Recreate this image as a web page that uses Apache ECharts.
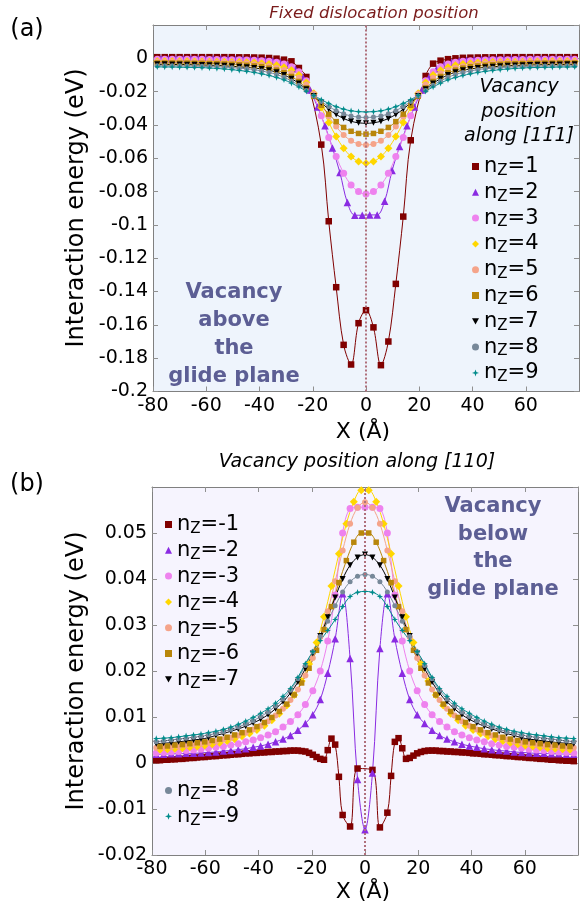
<!DOCTYPE html>
<html><head><meta charset="utf-8">
<script src="https://cdn.jsdelivr.net/npm/echarts@6/dist/echarts.min.js"></script>
<style>html,body{margin:0;padding:0;background:#fff}#c{width:586px;height:904px}</style>
</head><body><div id="c"></div>
<script>
// ---------- x positions (Å) ----------
const xA = [-78.4,-75.6,-72.8,-70,-67.2,-64.4,-61.6,-58.8,-56,-53.2,-50.4,-47.6,-44.8,-42,-39.2,-36.4,-33.6,-30.8,-28,-25.2,-22.4,-19.6,-16.8,-14,-11.2,-8.4,-5.6,-2.8,0,2.8,5.6,8.4,11.2,14,16.8,19.6,22.4,25.2,28,30.8,33.6,36.4,39.2,42,44.8,47.6,50.4,53.2,56,58.8,61.6,64.4,67.2,70,72.8,75.6,78.4];
const xB = [-77,-74.2,-71.4,-68.6,-65.8,-63,-60.2,-57.4,-54.6,-51.8,-49,-46.2,-43.4,-40.6,-37.8,-35,-32.2,-29.4,-26.6,-23.8,-21,-18.2,-15.4,-12.6,-9.8,-7,-4.2,-1.4,1.4,4.2,7,9.8,12.6,15.4,18.2,21,23.8,26.6,29.4,32.2,35,37.8,40.6,43.4,46.2,49,51.8,54.6,57.4,60.2,63,65.8,68.6,71.4,74.2,77];
const xN1 = [-78.4,-77,-75.6,-74.2,-72.8,-71.4,-70,-68.6,-67.2,-65.8,-64.4,-63,-61.6,-60.2,-58.8,-57.4,-56,-54.6,-53.2,-51.8,-50.4,-49,-47.6,-46.2,-44.8,-43.4,-42,-40.6,-39.2,-37.8,-36.4,-35,-33.6,-32.2,-30.8,-29.4,-28,-26.6,-25.2,-23.8,-22.4,-21,-19.6,-18.2,-16.8,
 -15.4,-14,-12.6,-11.2,-9.8,-8.4,-5.6,-2.8,2.8,5.6,8.4,9.8,11.2,12.6,14,15.4,
 16.8,18.2,19.6,21,22.4,23.8,25.2,26.6,28,29.4,30.8,32.2,33.6,35,36.4,37.8,39.2,40.6,42,43.4,44.8,46.2,47.6,49,50.4,51.8,53.2,54.6,56,57.4,58.8,60.2,61.6,63,64.4,65.8,67.2,68.6,70,71.4,72.8,74.2,75.6,77,78.4];

// ---------- (a) vacancy above the glide plane, energies (eV) ----------
const a1 = [0.0007,0.0007,0.0007,0.0007,0.0007,0.0007,0.0007,0.0007,0.0007,0.0007,0.0007,0.0006,0.0006,0.0005,0.0004,0.0002,-0.0002,-0.0008,-0.0018,-0.0058,-0.0112,null,-0.0518,-0.0978,-0.1374,-0.1720,-0.1838,-0.1590,
 -0.1512,
 -0.1615,-0.1842,-0.1700,-0.1354,-0.0950,-0.0492,null,-0.0106,-0.0032,-0.0014,-0.0005,0.0000,0.0003,0.0004,0.0005,0.0006,0.0006,0.0007,0.0007,0.0007,0.0007,0.0007,0.0007,0.0007,0.0007,0.0007,0.0007,0.0007];
const a2 = [-0.0002,-0.0002,-0.0002,-0.0002,-0.0002,-0.0003,-0.0003,-0.0003,-0.0003,-0.0004,-0.0004,-0.0005,-0.0006,-0.0008,-0.0011,-0.0016,-0.0024,-0.0038,-0.0062,-0.0110,-0.0190,-0.0292,-0.0405,-0.0538,-0.0686,-0.0866,-0.0942,-0.0942,
 -0.0940,-0.0940,-0.0858,-0.0674,-0.0530,-0.0405,-0.0292,-0.0190,-0.0110,-0.0062,-0.0038,-0.0024,-0.0016,-0.0011,-0.0008,-0.0006,-0.0005,-0.0004,-0.0004,-0.0003,-0.0003,-0.0003,-0.0003,-0.0002,-0.0002,-0.0002,-0.0002,-0.0002];
const a3 = [-0.0005,-0.0005,-0.0005,-0.0006,-0.0006,-0.0006,-0.0006,-0.0007,-0.0007,-0.0008,-0.0008,-0.0009,-0.0010,-0.0012,-0.0014,-0.0018,-0.0024,-0.0034,-0.0050,-0.0080,-0.0135,-0.0225,-0.0345,-0.0475,-0.0590,-0.0690,-0.0760,-0.0800,
 -0.0815,
 -0.0800,-0.0760,-0.0690,-0.0590,-0.0475,-0.0345,-0.0225,-0.0135,-0.0080,-0.0050,-0.0034,-0.0024,-0.0018,-0.0014,-0.0012,-0.0010,-0.0009,-0.0008,-0.0008,-0.0007,-0.0007,-0.0006,-0.0006,-0.0006,-0.0006,-0.0005,-0.0005,-0.0005];
const a4 = [-0.0017,-0.0017,-0.0018,-0.0018,-0.0018,-0.0019,-0.0019,-0.0020,-0.0020,-0.0021,-0.0022,-0.0022,-0.0023,-0.0025,-0.0029,-0.0034,-0.0042,-0.0054,-0.0072,-0.0100,-0.0145,-0.0210,-0.0295,-0.0385,-0.0470,-0.0540,-0.0590,-0.0620,
 -0.0630,
 -0.0620,-0.0590,-0.0540,-0.0470,-0.0385,-0.0295,-0.0210,-0.0145,-0.0100,-0.0072,-0.0054,-0.0042,-0.0034,-0.0029,-0.0025,-0.0023,-0.0022,-0.0022,-0.0021,-0.0020,-0.0020,-0.0019,-0.0019,-0.0018,-0.0018,-0.0018,-0.0017,-0.0017];
const a5 = [-0.0021,-0.0022,-0.0022,-0.0022,-0.0023,-0.0023,-0.0024,-0.0024,-0.0025,-0.0026,-0.0027,-0.0029,-0.0031,-0.0035,-0.0040,-0.0047,-0.0057,-0.0070,-0.0089,-0.0117,-0.0157,-0.0212,-0.0280,-0.0348,-0.0410,-0.0460,-0.0495,-0.0514,
 -0.0520,
 -0.0514,-0.0495,-0.0460,-0.0410,-0.0348,-0.0280,-0.0212,-0.0157,-0.0117,-0.0089,-0.0070,-0.0057,-0.0047,-0.0040,-0.0035,-0.0031,-0.0029,-0.0027,-0.0026,-0.0025,-0.0024,-0.0024,-0.0023,-0.0023,-0.0022,-0.0022,-0.0022,-0.0021];
const a6 = [-0.0028,-0.0028,-0.0028,-0.0029,-0.0029,-0.0030,-0.0030,-0.0031,-0.0032,-0.0034,-0.0036,-0.0039,-0.0042,-0.0046,-0.0050,-0.0059,-0.0071,-0.0087,-0.0109,-0.0139,-0.0178,-0.0228,-0.0282,-0.0335,-0.0380,-0.0415,-0.0438,-0.0451,
 -0.0455,
 -0.0451,-0.0438,-0.0415,-0.0380,-0.0335,-0.0282,-0.0228,-0.0178,-0.0139,-0.0109,-0.0087,-0.0071,-0.0059,-0.0050,-0.0046,-0.0042,-0.0039,-0.0036,-0.0034,-0.0032,-0.0031,-0.0030,-0.0030,-0.0029,-0.0029,-0.0028,-0.0028,-0.0028];
const a7 = [-0.0036,-0.0036,-0.0037,-0.0037,-0.0038,-0.0039,-0.0040,-0.0041,-0.0043,-0.0045,-0.0048,-0.0051,-0.0054,-0.0058,-0.0064,-0.0072,-0.0083,-0.0100,-0.0122,-0.0151,-0.0186,-0.0226,-0.0266,-0.0305,-0.0337,-0.0361,-0.0378,-0.0387,
 -0.0390,
 -0.0387,-0.0378,-0.0361,-0.0337,-0.0305,-0.0266,-0.0226,-0.0186,-0.0151,-0.0122,-0.0100,-0.0083,-0.0072,-0.0064,-0.0058,-0.0054,-0.0051,-0.0048,-0.0045,-0.0043,-0.0041,-0.0040,-0.0039,-0.0038,-0.0037,-0.0037,-0.0036,-0.0036];
const a8 = [-0.0044,-0.0044,-0.0045,-0.0045,-0.0046,-0.0047,-0.0048,-0.0049,-0.0051,-0.0053,-0.0056,-0.0059,-0.0063,-0.0068,-0.0076,-0.0085,-0.0097,-0.0114,-0.0136,-0.0162,-0.0193,-0.0226,-0.0259,-0.0289,-0.0314,-0.0333,-0.0346,-0.0353,
 -0.0355,
 -0.0353,-0.0346,-0.0333,-0.0314,-0.0289,-0.0259,-0.0226,-0.0193,-0.0162,-0.0136,-0.0114,-0.0097,-0.0085,-0.0076,-0.0068,-0.0063,-0.0059,-0.0056,-0.0053,-0.0051,-0.0049,-0.0048,-0.0047,-0.0046,-0.0045,-0.0045,-0.0044,-0.0044];
const a9 = [-0.0051,-0.0052,-0.0052,-0.0053,-0.0054,-0.0055,-0.0056,-0.0058,-0.0061,-0.0064,-0.0068,-0.0073,-0.0078,-0.0085,-0.0093,-0.0103,-0.0115,-0.0129,-0.0149,-0.0172,-0.0197,-0.0223,-0.0248,-0.0271,-0.0290,-0.0305,-0.0315,-0.0320,
 -0.0322,
 -0.0320,-0.0315,-0.0305,-0.0290,-0.0271,-0.0248,-0.0223,-0.0197,-0.0172,-0.0149,-0.0129,-0.0115,-0.0103,-0.0093,-0.0085,-0.0078,-0.0073,-0.0068,-0.0064,-0.0061,-0.0058,-0.0056,-0.0055,-0.0054,-0.0053,-0.0052,-0.0052,-0.0051];

// ---------- (b) vacancy below the glide plane, energies (eV) ----------
const b1 = [0.0006,0.0006,0.0007,0.0007,0.0008,0.0008,0.0009,0.0009,0.0010,0.0011,0.0011,0.0012,0.0013,0.0013,0.0014,0.0015,0.0015,0.0016,0.0017,0.0017,0.0018,0.0019,0.0019,0.0020,0.0021,0.0021,0.0022,0.0022,0.0023,0.0023,0.0024,0.0024,0.0025,0.0025,0.0026,0.0026,0.0027,0.0027,0.0027,0.0026,0.0025,0.0022,0.0018,0.0013,0.0009,
 0.0007,0.0028,0.0053,0.0040,-0.0030,-0.0113,-0.0138,-0.0012,-0.0015,-0.0140,-0.0108,-0.0028,0.0046,0.0054,0.0032,0.0009,
 0.0011,0.0016,0.0021,0.0024,0.0026,0.0027,0.0027,0.0027,0.0026,0.0026,0.0025,0.0025,0.0024,0.0024,0.0023,0.0023,0.0022,0.0021,0.0021,0.0020,0.0019,0.0019,0.0018,0.0017,0.0017,0.0016,0.0015,0.0015,0.0014,0.0013,0.0013,0.0012,0.0011,0.0011,0.0010,0.0009,0.0009,0.0008,0.0007,0.0007,0.0006,0.0006,0.0005,0.0005,0.0004];
const b2 = [0.0019,0.0019,0.0020,0.0020,0.0021,0.0021,0.0022,0.0023,0.0024,0.0026,0.0027,0.0029,0.0031,0.0034,0.0037,0.0041,0.0046,0.0052,0.0060,0.0071,0.0086,0.0105,0.0138,0.0195,0.0270,0.0368,0.0227,-0.0036,
 -0.0145,
 -0.0022,0.0249,0.0368,0.0270,0.0195,0.0138,0.0105,0.0086,0.0071,0.0060,0.0052,0.0046,0.0041,0.0037,0.0034,0.0031,0.0029,0.0027,0.0026,0.0024,0.0023,0.0022,0.0021,0.0021,0.0020,0.0020,0.0019,0.0019];
const b3 = [0.0022,0.0023,0.0024,0.0025,0.0027,0.0028,0.0030,0.0032,0.0034,0.0036,0.0039,0.0042,0.0046,0.0050,0.0055,0.0061,0.0068,0.0078,0.0090,0.0105,0.0127,0.0157,0.0200,0.0265,0.0365,0.0500,0.0553,0.0556,
 0.0556,
 0.0556,0.0553,0.0500,0.0365,0.0265,0.0200,0.0157,0.0127,0.0105,0.0090,0.0078,0.0068,0.0061,0.0055,0.0050,0.0046,0.0042,0.0039,0.0036,0.0034,0.0032,0.0030,0.0028,0.0027,0.0025,0.0024,0.0023,0.0022];
const b4 = [0.0029,0.0030,0.0031,0.0032,0.0034,0.0036,0.0038,0.0041,0.0044,0.0048,0.0052,0.0058,0.0064,0.0072,0.0081,0.0093,0.0107,0.0125,0.0148,0.0178,0.0215,0.0262,0.0318,0.0385,0.0455,0.0520,0.0568,0.0593,
 0.0593,0.0568,0.0520,0.0455,0.0385,0.0318,0.0262,0.0215,0.0178,0.0148,0.0125,0.0107,0.0093,0.0081,0.0072,0.0064,0.0058,0.0052,0.0048,0.0044,0.0041,0.0038,0.0036,0.0034,0.0032,0.0031,0.0030,0.0029];
const b5 = [0.0033,0.0034,0.0035,0.0036,0.0038,0.0040,0.0042,0.0044,0.0047,0.0051,0.0055,0.0060,0.0066,0.0073,0.0081,0.0091,0.0103,0.0118,0.0137,0.0160,0.0190,0.0228,0.0274,0.0330,0.0395,0.0462,0.0520,0.0555,
 0.0567,
 0.0555,0.0520,0.0462,0.0395,0.0330,0.0274,0.0228,0.0190,0.0160,0.0137,0.0118,0.0103,0.0091,0.0081,0.0073,0.0066,0.0060,0.0055,0.0051,0.0047,0.0044,0.0042,0.0040,0.0038,0.0036,0.0035,0.0034,0.0033];
const b6 = [0.0036,0.0037,0.0039,0.0040,0.0042,0.0044,0.0046,0.0049,0.0052,0.0056,0.0061,0.0066,0.0072,0.0079,0.0088,0.0099,0.0112,0.0128,0.0148,0.0174,0.0206,0.0245,0.0290,0.0340,0.0392,0.0440,0.0480,0.0500,
 0.0500,0.0480,0.0440,0.0392,0.0340,0.0290,0.0245,0.0206,0.0174,0.0148,0.0128,0.0112,0.0099,0.0088,0.0079,0.0072,0.0066,0.0061,0.0056,0.0052,0.0049,0.0046,0.0044,0.0042,0.0040,0.0039,0.0037,0.0036];
const b7 = [0.0042,0.0043,0.0044,0.0046,0.0048,0.0050,0.0052,0.0055,0.0060,0.0064,0.0069,0.0074,0.0080,0.0087,0.0095,0.0105,0.0118,0.0133,0.0152,0.0176,0.0205,0.0238,0.0276,0.0317,0.0360,0.0400,0.0430,0.0447,
 0.0453,
 0.0447,0.0430,0.0400,0.0360,0.0317,0.0276,0.0238,0.0205,0.0176,0.0152,0.0133,0.0118,0.0105,0.0095,0.0087,0.0080,0.0074,0.0069,0.0064,0.0060,0.0055,0.0052,0.0050,0.0048,0.0046,0.0044,0.0043,0.0042];
const b8 = [0.0046,0.0048,0.0050,0.0052,0.0054,0.0056,0.0058,0.0061,0.0064,0.0068,0.0073,0.0078,0.0085,0.0092,0.0101,0.0111,0.0124,0.0139,0.0158,0.0183,0.0212,0.0242,0.0275,0.0308,0.0342,0.0372,0.0394,0.0406,
 0.0410,
 0.0406,0.0394,0.0372,0.0342,0.0308,0.0275,0.0242,0.0212,0.0183,0.0158,0.0139,0.0124,0.0111,0.0101,0.0092,0.0085,0.0078,0.0073,0.0068,0.0064,0.0061,0.0058,0.0056,0.0054,0.0052,0.0050,0.0048,0.0046];
const b9 = [0.0053,0.0054,0.0055,0.0057,0.0059,0.0061,0.0063,0.0066,0.0069,0.0073,0.0078,0.0084,0.0091,0.0099,0.0108,0.0118,0.0130,0.0145,0.0162,0.0186,0.0216,0.0242,0.0266,0.0288,0.0312,0.0340,0.0362,0.0371,
 0.0373,
 0.0371,0.0362,0.0340,0.0312,0.0288,0.0266,0.0242,0.0216,0.0186,0.0162,0.0145,0.0130,0.0118,0.0108,0.0099,0.0091,0.0084,0.0078,0.0073,0.0069,0.0066,0.0063,0.0061,0.0059,0.0057,0.0055,0.0054,0.0053];

// ---------- labels ----------
const topNames = ['nz=1','nz=2','nz=3','nz=4','nz=5','nz=6','nz=7','nz=8','nz=9'];
const botNames = ['nz=-1','nz=-2','nz=-3','nz=-4','nz=-5','nz=-6','nz=-7','nz=-8','nz=-9'];

const FONT = 'DejaVu Sans';
const COLORS = ['#800000','#8a2be2','#ee82ee','#ffd700','#f5a48a','#b8860b','#000000','#778899','#008b8b'];
const INV_TRI = 'path://M0,0 L10,0 L5,9 Z';
const STAR = 'path://M5,0 L6.3,3.7 L10,5 L6.3,6.3 L5,10 L3.7,6.3 L0,5 L3.7,3.7 Z';
const SYMS = ['rect','triangle','circle','diamond','circle','rect',INV_TRI,'circle',STAR];
const SIZES = [6.5,7.5,7,8,6,5.5,6,5,6.5];

function ser(name, xs, ys, i, xi, yi, extra) {
  return Object.assign({
    type:'line', name, xAxisIndex:xi, yAxisIndex:yi,
    data: xs.map((x,k)=>[x, ys[k]]),
    symbol: SYMS[i], symbolSize: SIZES[i], showSymbol:true, showAllSymbol:true,
    smooth:0.35, connectNulls:true, clip:true,
    lineStyle:{color:COLORS[i], width:1},
    itemStyle:{color:COLORS[i], borderWidth:0},
    emphasis:{disabled:true}, animation:false
  }, extra||{});
}
const zeroLine = {markLine:{silent:true, animation:false, symbol:['none','none'], label:{show:false},
  lineStyle:{color:'#b0707c', type:[2,2], width:2}, data:[{xAxis:0}]}};

const topY = [a1,a2,a3,a4,a5,a6,a7,a8,a9];
const topX = [xA,xB,xA,xA,xA,xA,xA,xA,xA];
const botY = [b1,b2,b3,b4,b5,b6,b7,b8,b9];
const botX = [xN1,xA,xA,xB,xA,xB,xA,xA,xA];

const series = [];
topNames.forEach((n,i)=>series.push(ser(n, topX[i], topY[i], i, 0, 0, i===8?zeroLine:null)));
botNames.forEach((n,i)=>series.push(ser(n, botX[i], botY[i], i, 2, 2, i===8?zeroLine:null)));

function xAx(gi,pos,lab){return {type:'value',gridIndex:gi,position:pos,min:-80,max:80,interval:20,
  axisLine:{show:true,onZero:false,lineStyle:{color:'#808080',width:1}},
  axisTick:{show:true,inside:true,length:5,lineStyle:{color:'#909090'}},
  axisLabel:{show:lab,showMaxLabel:false,fontSize:19,fontFamily:FONT,color:'#000',margin:5},
  splitLine:{show:false}};}
function yAx(gi,pos,min,max,iv,lab){return {type:'value',gridIndex:gi,position:pos,min:min,max:max,interval:iv,
  axisLine:{show:true,onZero:false,lineStyle:{color:'#808080',width:1}},
  axisTick:{show:true,inside:true,length:5,lineStyle:{color:'#909090'}},
  axisLabel:{show:lab,showMaxLabel:false,fontSize:19,fontFamily:FONT,color:'#000',margin:5},
  splitLine:{show:false}};}

const rich = {n:{fontSize:21,fontFamily:FONT,color:'#000'}, s:{fontSize:15,fontFamily:FONT,color:'#000',padding:[9,0,0,0]}};
function legendOf(names, idxs, left, top){
  return {orient:'vertical', left, top, padding:0, itemGap:3.3, itemWidth:7, itemHeight:7, selectedMode:false,
    data: names.map((n,k)=>({name:n, icon:SYMS[idxs[k]]})),
    formatter: name => '{n|n}{s|Z}{n|=' + name.slice(3) + '}',
    textStyle:{fontFamily:FONT, fontSize:21, color:'#000', rich}};
}

function txt(x,y,text,font,fill,extra){
  return Object.assign({type:'text', x, y, silent:true,
    style:Object.assign({text, font, fill:fill||'#000', textAlign:'center', textVerticalAlign:'middle', align:'center', verticalAlign:'middle'}, (extra&&extra.style)||{})},
    extra&&extra.rotation!==undefined?{rotation:extra.rotation}:{});
}

const option = {
  animation:false,
  backgroundColor:'#ffffff',
  grid:[
    {left:153, top:25, width:426, height:366.5, show:true, backgroundColor:'#eef4fc', borderWidth:0},
    {left:152, top:487, width:426, height:368, show:true, backgroundColor:'#f6f4fe', borderWidth:0}
  ],
  xAxis:[xAx(0,'bottom',true), xAx(0,'top',false), xAx(1,'bottom',true), xAx(1,'top',false)],
  yAxis:[yAx(0,'left',-0.2,0.02,0.02,true), yAx(0,'right',-0.2,0.02,0.02,false),
         yAx(1,'left',-0.02,0.06,0.01,true), yAx(1,'right',-0.02,0.06,0.01,false)],
  legend:[
    legendOf(topNames,[0,1,2,3,4,5,6,7,8],472,156),
    legendOf(botNames.slice(0,7),[0,1,2,3,4,5,6],165,514),
    legendOf(botNames.slice(7),[7,8],165,780)
  ],
  graphic:[
    txt(27,30,'(a)','24px "DejaVu Sans"'),
    txt(27,485,'(b)','24px "DejaVu Sans"'),
    txt(374,14,'Fixed dislocation position','italic 16.5px "DejaVu Sans"','#7a1c1c'),
    txt(357,462,'Vacancy position along [110]','italic 19px "DejaVu Sans"','#000'),
    txt(519,112,'Vacancy\nposition\nalong [11\u03041]','italic 19px "DejaVu Sans"','#000',{style:{lineHeight:24.5}}),
    txt(234,335,'Vacancy\nabove\nthe\nglide plane','bold 21px "DejaVu Sans"','#5c5e94',{style:{lineHeight:28}}),
    txt(493,548,'Vacancy\nbelow\nthe\nglide plane','bold 21px "DejaVu Sans"','#5c5e94',{style:{lineHeight:27.6}}),
    txt(77,208,'Interaction energy (eV)','24px "DejaVu Sans"','#000',{rotation:Math.PI/2}),
    txt(77,671,'Interaction energy (eV)','24px "DejaVu Sans"','#000',{rotation:Math.PI/2}),
    txt(363,432,'X (\u00c5)','22px "DejaVu Sans"'),
    txt(363,892,'X (\u00c5)','22px "DejaVu Sans"')
  ],
  series
};
const chart = echarts.init(document.getElementById('c'), null, {renderer:'canvas'});
chart.setOption(option);
</script></body></html>
